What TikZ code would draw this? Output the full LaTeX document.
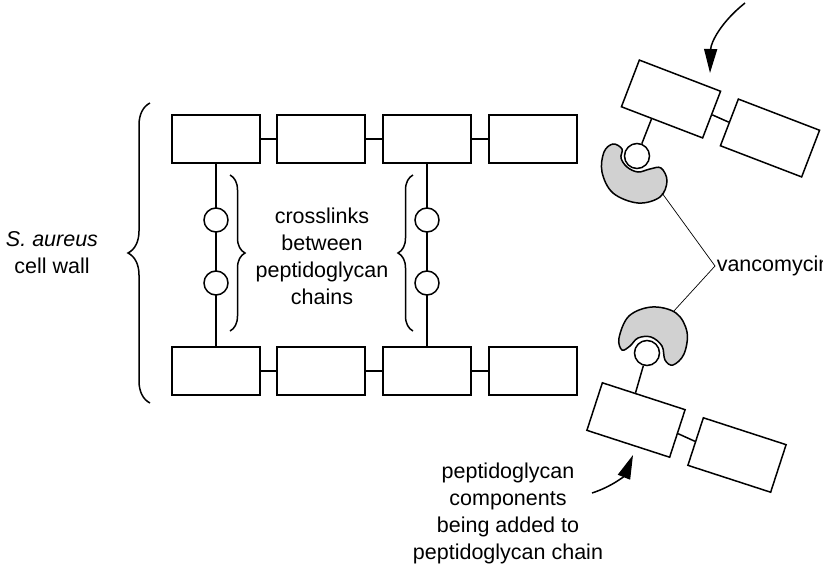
\documentclass[tikz,border=0pt]{standalone}
\usepackage{fontspec}
\setmainfont{Liberation Sans}
\usetikzlibrary{decorations.pathreplacing,calc,arrows.meta}
\begin{document}
\begin{tikzpicture}[x=1pt,y=-1pt,line width=1.5pt,
 box/.style={draw,minimum width=88pt,minimum height=48pt,inner sep=0pt},
 rbox/.style={draw,minimum width=87pt,minimum height=50pt,inner sep=0pt},
 ball/.style={draw,circle,minimum size=24pt,inner sep=0pt,fill=white},
 lbl/.style={font=\fontsize{21.5}{27}\selectfont,align=center},
 brace/.style={decorate,decoration={brace,amplitude=#1}},
 thin1/.style={line width=0.7pt},
 bigarr/.style={-{Triangle[length=24pt,width=13pt]}}]
\useasboundingbox (0,0) rectangle (823,574);
\node[box] (t1) at (216,139) {};
\node[box] (t2) at (321,139) {};
\node[box] (t3) at (427,139) {};
\node[box] (t4) at (533,139) {};
\node[box] (b1) at (216,371) {};
\node[box] (b2) at (321,371) {};
\node[box] (b3) at (427,371) {};
\node[box] (b4) at (533,371) {};
\draw (t1)--(t2) (t2)--(t3) (t3)--(t4) (b1)--(b2) (b2)--(b3) (b3)--(b4);
\draw (t1.south)--(b1.north) (t3.south)--(b3.north);
\node[ball] (l1) at (216,220) {}; \node[ball] (l2) at (216,283) {};
\node[ball] (r1) at (427,220) {}; \node[ball] (r2) at (427,283) {};
\draw[brace=22pt] (150,403) -- (150,103);
\node[lbl] (sa) at (52,253) {\textit{S. aureus}\\cell wall};
\draw[brace=15pt] (230,175) -- (230,331);
\draw[brace=15pt] (413,331) -- (413,175);
\node[lbl] (cl) at (322,256) {crosslinks\\between\\peptidoglycan\\chains};
% top rotated pair
\node[rbox,rotate=-21] (ta) at (671,99) {};
\node[rbox,rotate=-21] (tb) at (770,138) {};
\draw (ta.east)--(tb.west);
\coordinate (ts) at ($(ta.south)!0.25!(ta.south west)$);
\draw[fill=black!18] plot[smooth cycle,tension=0.6] coordinates {(622,149)(613,144)(604,152)(602,172)(613,193)(638,203)(660,197)(667,181)(661,168)(650,169)(638,172)(627,167)(621,158)};
\node[ball,minimum size=25pt] (tc) at (637,156) {};
\draw (tc)--(ts);
% bottom rotated pair
\node[rbox,rotate=-18] (ba) at (636,420) {};
\node[rbox,rotate=-18] (bb) at (737,455) {};
\draw (ba.east)--(bb.west);
\coordinate (bs) at ($(ba.north)!0.2!(ba.north west)$);
\draw[fill=black!18] plot[smooth cycle,tension=0.6] coordinates {(619,338)(629,316)(652,307)(676,313)(687,332)(684,354)(673,365)(665,360)(662,346)(651,337)(638,338)(630,346)(622,350)};
\node[ball,minimum size=25pt] (bc) at (647,353) {};
\draw (bc)--(bs);
% vancomycin
\node[lbl,anchor=west,inner sep=1pt] (v) at (715,266) {vancomycin};
\draw[thin1] (662,193)--(v.west);
\draw[thin1] (673,312)--(v.west);
% arrows
\coordinate (a1s) at (745,3); \coordinate (a1e) at (710,73);
\draw[bigarr] (a1s) to[bend right=25] (a1e);
\node[lbl] (pc) at (508,513) {peptidoglycan\\components\\being added to\\peptidoglycan chain};
\coordinate (a2s) at (592,493); \coordinate (a2e) at (633,455);
\draw[bigarr] (a2s) to[bend right=25] (a2e);
\end{tikzpicture}
\end{document}
